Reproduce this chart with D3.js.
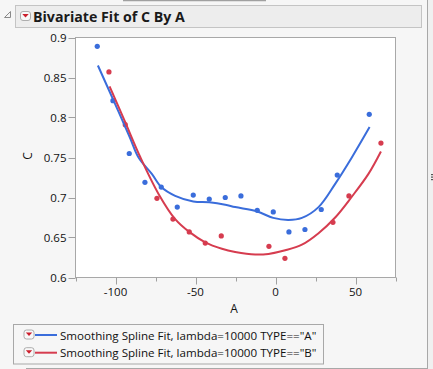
<!DOCTYPE html>
<html><head><meta charset="utf-8">
<script src="https://cdn.jsdelivr.net/npm/d3@7"></script>
<style>
html,body{margin:0;padding:0;background:#f6f6f6;}
svg{display:block;}
text{font-family:"Open Sans","Noto Sans",sans-serif;}
</style></head>
<body>
<svg id="c" width="433" height="369"></svg>
<script>
// ---- data ----
const typeA_x = [-111.4,-101.6,-91.4,-81.6,-71.4,-61.4,-51.4,-41.4,-31.4,-21.6,-11.4,-1.4,8.4,18.4,28.6,38.6,58.6];
const typeA_y = [0.889,0.821,0.755,0.719,0.713,0.688,0.703,0.698,0.700,0.702,0.684,0.682,0.657,0.660,0.685,0.728,0.804];
const typeB_x = [-104.1,-93.9,-74.1,-64.1,-53.9,-43.9,-33.9,-4.1,5.9,35.9,45.9,65.9];
const typeB_y = [0.857,0.791,0.699,0.673,0.657,0.643,0.652,0.639,0.624,0.669,0.702,0.768];
const fitA_x = [-111,-101.6,-91,-85.6,-77.3,-71.4,-62.7,-51.4,-41.4,-31.4,-25.2,-11.4,-1.4,8.1,16.5,26.9,37.3,47.7,58.8];
const fitA_y = [0.865,0.823,0.775,0.750,0.7295,0.713,0.702,0.695,0.694,0.691,0.688,0.6825,0.6745,0.672,0.6745,0.688,0.717,0.750,0.788];
const fitB_x = [-103.7,-94,-84.4,-73.1,-62.7,-53.9,-43.9,-33.5,-25.2,-12.7,-4.4,6.1,16.5,26.9,37.3,47.7,58.1,65.9];
const fitB_y = [0.839,0.7945,0.750,0.7045,0.673,0.657,0.644,0.636,0.632,0.6287,0.6295,0.634,0.641,0.6554,0.675,0.701,0.7295,0.7575];
const xMajorTicks = [-100,-50,0,50];
const xMinorTicks = [-125,-75,-25,25,75];
const yTicks = [0.6,0.65,0.7,0.75,0.8,0.85,0.9];
const legendLabels = ['Smoothing Spline Fit, lambda=10000 TYPE=="A"','Smoothing Spline Fit, lambda=10000 TYPE=="B"'];
const colors = ["#3a6ddb","#d63c4f"];

const svg = d3.select("#c");
const L=75.5, R=395.5, T=37.5, B=277.5;
const x = d3.scaleLinear().domain([-125,75]).range([L,R]);
const y = d3.scaleLinear().domain([0.6,0.9]).range([B,T]);

// top strip
svg.append("line").attr("x1",123).attr("x2",266).attr("y1",0.5).attr("y2",0.5).attr("stroke","#a0a0a0").attr("stroke-width",1.5);
// right divider
svg.append("line").attr("x1",427.5).attr("x2",427.5).attr("y1",0).attr("y2",369).attr("stroke","#a8a8a8");
svg.append("rect").attr("x",428).attr("y",0).attr("width",5).attr("height",369).attr("fill","#f0f0f0");
[0,1,2].forEach(i=>svg.append("rect").attr("x",431).attr("y",174+i*2.5).attr("width",2).attr("height",1.2).attr("fill","#555"));

// header
svg.append("rect").attr("x",15.5).attr("y",5.5).attr("width",406).attr("height",22).attr("fill","#ededed").attr("stroke","#c4c4c4");
// disclosure triangle
svg.append("path").attr("d","M4.5,17.5 L10.5,11.5 L10.5,17.5 Z").attr("fill","#f4f4f4").attr("stroke","#8a8a8a");
function dropIcon(g,cx,cy){
  g.append("rect").attr("x",cx-5).attr("y",cy-4.5).attr("width",10).attr("height",9).attr("rx",2.5).attr("fill","#f8f8f8").attr("stroke","#9a9a9a").attr("stroke-width",0.8);
  g.append("path").attr("d",`M${cx-3.2},${cy-2} L${cx+3.2},${cy-2} L${cx},${cy+1.6} Z`).attr("fill","#cc1f2d");
}
dropIcon(svg,25.5,16);
svg.append("text").attr("x",33).attr("y",21.5).attr("font-size",14.2).attr("font-weight","bold").attr("fill","#1a1a1a").text("Bivariate Fit of C By A");

// plot area
svg.append("rect").attr("x",L).attr("y",T).attr("width",R-L).attr("height",B-T).attr("fill","#fff").attr("stroke","#a8a8a8");

// y axis
const gy = svg.append("g");
yTicks.forEach(t=>{
  gy.append("line").attr("x1",L-7).attr("x2",L).attr("y1",Math.round(y(t))+0.5).attr("y2",Math.round(y(t))+0.5).attr("stroke","#a0a0a0");
  gy.append("text").attr("x",L-9).attr("y",y(t)+4).attr("text-anchor","end").attr("font-size",11.5).attr("fill","#111").text(d3.format("")(t));
});
// x axis
const gx = svg.append("g");
xMajorTicks.forEach(t=>{
  gx.append("line").attr("x1",Math.round(x(t))+0.5).attr("x2",Math.round(x(t))+0.5).attr("y1",B).attr("y2",B+7).attr("stroke","#a0a0a0");
  gx.append("text").attr("x",x(t)).attr("y",296).attr("text-anchor","middle").attr("font-size",11.5).attr("fill","#111").text(t);
});
xMinorTicks.forEach(t=>{
  gx.append("line").attr("x1",Math.round(x(t))+0.5).attr("x2",Math.round(x(t))+0.5).attr("y1",B).attr("y2",B+4).attr("stroke","#a0a0a0");
});
svg.append("text").attr("x",234).attr("y",313).attr("text-anchor","middle").attr("font-size",12).attr("fill","#111").text("A");
svg.append("text").attr("transform","translate(32,156) rotate(-90)").attr("text-anchor","middle").attr("font-size",12).attr("fill","#111").text("C");

// fits
const line = d3.line().x(d=>x(d[0])).y(d=>y(d[1])).curve(d3.curveCatmullRom);
const fits = [d3.zip(fitA_x,fitA_y), d3.zip(fitB_x,fitB_y)];
const pts = [d3.zip(typeA_x,typeA_y), d3.zip(typeB_x,typeB_y)];
const plot = svg.append("g");
[0,1].forEach(i=>{
  plot.selectAll(null).data(pts[i]).enter().append("circle")
    .attr("cx",d=>x(d[0])).attr("cy",d=>y(d[1])).attr("r",2.6).attr("fill",colors[i]);
});
[0,1].forEach(i=>{
  plot.append("path").attr("d",line(fits[i])).attr("fill","none").attr("stroke",colors[i]).attr("stroke-width",2);
});

// legend
svg.append("rect").attr("x",13.5).attr("y",324.5).attr("width",310).attr("height",39.5).attr("fill","#f6f6f6").attr("stroke","#a8a8a8");
legendLabels.forEach((lab,i)=>{
  const cy = 335 + i*17.7;
  dropIcon(svg,29,cy-0.5);
  svg.append("line").attr("x1",35).attr("x2",57).attr("y1",cy).attr("y2",cy).attr("stroke",colors[i]).attr("stroke-width",2);
  svg.append("text").attr("x",60).attr("y",cy+4.5).attr("font-size",11.6).attr("fill","#111").text(lab);
});
svg.append("line").attr("x1",26).attr("x2",427).attr("y1",368.5).attr("y2",368.5).attr("stroke","#a8a8a8");
</script>
</body></html>
